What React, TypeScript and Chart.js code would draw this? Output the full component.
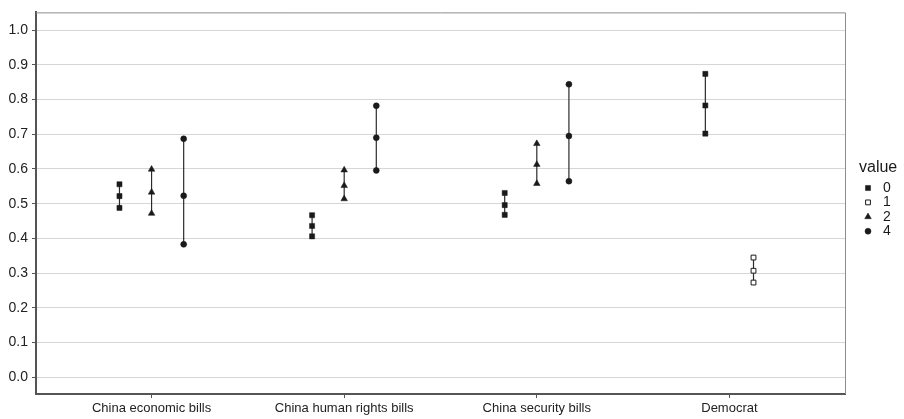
import React, { useEffect, useRef } from "react";
import { Chart, registerables } from "chart.js";

Chart.register(...registerables);

const categories = [
  "China economic bills",
  "China human rights bills",
  "China security bills",
  "Democrat",
];
const groupLabels = ["0", "1", "2", "4"];

// per group: estimate, lower, upper per category (null = not present)
const value0Mid = [0.522, 0.436, 0.496, 0.783];
const value0Low = [0.488, 0.406, 0.468, 0.702];
const value0High = [0.556, 0.467, 0.531, 0.874];

const value1Mid = [null, null, null, 0.307];
const value1Low = [null, null, null, 0.273];
const value1High = [null, null, null, 0.345];

const value2Mid = [0.533, 0.552, 0.613, null];
const value2Low = [0.472, 0.514, 0.558, null];
const value2High = [0.599, 0.597, 0.673, null];

const value4Mid = [0.523, 0.69, 0.695, null];
const value4Low = [0.383, 0.596, 0.565, null];
const value4High = [0.687, 0.782, 0.844, null];

const yTicks = [0, 0.1, 0.2, 0.3, 0.4, 0.5, 0.6, 0.7, 0.8, 0.9, 1.0];

const groupMid = [value0Mid, value1Mid, value2Mid, value4Mid];
const groupLow = [value0Low, value1Low, value2Low, value4Low];
const groupHigh = [value0High, value1High, value2High, value4High];

const DODGE = 0.5;
const INK = "#1a1a1a";
const FONT = "'Liberation Sans', Arial, sans-serif";

const markerStyles = [
  { pointStyle: "rect", radius: 3.6, fill: INK, border: INK, bw: 0.5 },
  { pointStyle: "rect", radius: 3.4, fill: "#ffffff", border: INK, bw: 1 },
  { pointStyle: "triangle", radius: 3.8, fill: INK, border: INK, bw: 0.5 },
  { pointStyle: "circle", radius: 3, fill: INK, border: INK, bw: 0.5 },
];

function xPosition(catIndex: number, groupIndex: number): number {
  const present: number[] = [];
  groupMid.forEach((arr, gi) => {
    if (arr[catIndex] != null) present.push(gi);
  });
  const n = present.length;
  const k = present.indexOf(groupIndex);
  const slot = DODGE / n;
  return catIndex + 1 - DODGE / 2 + slot / 2 + k * slot;
}

function buildData(gi: number) {
  const out: { x: number; y: number | null }[] = [];
  categories.forEach((_, ci) => {
    const m = groupMid[gi][ci];
    if (m == null) return;
    const x = xPosition(ci, gi);
    out.push({ x, y: groupLow[gi][ci] as number });
    out.push({ x, y: m });
    out.push({ x, y: groupHigh[gi][ci] as number });
    out.push({ x, y: null });
  });
  return out;
}

const framePlugin = {
  id: "frameAndLegend",
  afterDraw(chart: any) {
    const { ctx, chartArea } = chart;
    ctx.save();
    ctx.strokeStyle = "#8c8c8c";
    ctx.lineWidth = 1;
    ctx.beginPath();
    ctx.moveTo(chartArea.left, chartArea.top + 0.5);
    ctx.lineTo(chartArea.right + 0.5, chartArea.top + 0.5);
    ctx.lineTo(chartArea.right + 0.5, chartArea.bottom);
    ctx.stroke();

    // legend
    ctx.fillStyle = "#1a1a1a";
    ctx.font = `16px ${FONT}`;
    ctx.textBaseline = "middle";
    ctx.textAlign = "left";
    ctx.fillText("value", 859, 168);
    ctx.font = `14px ${FONT}`;
    groupLabels.forEach((lab, i) => {
      const y = 188 + i * 14.4;
      const x = 868;
      const st = markerStyles[i];
      ctx.fillStyle = st.fill;
      ctx.strokeStyle = st.border;
      ctx.lineWidth = st.bw;
      ctx.beginPath();
      if (st.pointStyle === "rect") {
        const s = st.radius * Math.SQRT1_2;
        ctx.rect(x - s, y - s, 2 * s, 2 * s);
      } else if (st.pointStyle === "triangle") {
        const r = st.radius;
        ctx.moveTo(x, y - r);
        ctx.lineTo(x + r * 0.866, y + r * 0.5);
        ctx.lineTo(x - r * 0.866, y + r * 0.5);
        ctx.closePath();
      } else {
        ctx.arc(x, y, st.radius, 0, Math.PI * 2);
      }
      ctx.fill();
      ctx.stroke();
      ctx.fillStyle = "#1a1a1a";
      ctx.fillText(lab, 883, y);
    });
    ctx.restore();
  },
};

export default function App() {
  const canvasRef = useRef<HTMLCanvasElement | null>(null);

  useEffect(() => {
    if (!canvasRef.current) return;
    const datasets = groupLabels.map((lab, gi) => {
      const st = markerStyles[gi];
      return {
        label: lab,
        data: buildData(gi),
        showLine: true,
        spanGaps: false,
        borderColor: "#2b2b2b",
        borderWidth: 1.2,
        pointStyle: st.pointStyle,
        pointRadius: st.radius,
        pointBackgroundColor: st.fill,
        pointBorderColor: st.border,
        pointBorderWidth: st.bw,
      };
    });

    const chart = new Chart(canvasRef.current, {
      type: "scatter",
      data: { datasets: datasets as any },
      plugins: [framePlugin],
      options: {
        animation: false,
        responsive: false,
        devicePixelRatio: 1,
        layout: { padding: { left: 0, top: 7, right: 59, bottom: 0 } },
        plugins: {
          legend: { display: false },
          tooltip: { enabled: false },
        },
        scales: {
          x: {
            type: "linear",
            min: 0.4,
            max: 4.6,
            afterBuildTicks: (scale: any) => {
              scale.ticks = [1, 2, 3, 4].map((v) => ({ value: v }));
            },
            afterFit: (scale: any) => {
              scale.height = 25;
            },
            ticks: {
              autoSkip: false,
              maxRotation: 0,
              padding: 3,
              color: "#222222",
              font: { family: FONT, size: 13 },
              callback: (v: any) => categories[Math.round(Number(v)) - 1] ?? "",
            },
            grid: {
              drawOnChartArea: false,
              drawTicks: true,
              tickLength: 4,
              tickColor: "#555555",
            },
            border: { display: true, color: "#555555", width: 2 },
          },
          y: {
            type: "linear",
            min: -0.048,
            max: 1.051,
            afterBuildTicks: (scale: any) => {
              scale.ticks = yTicks.map((v) => ({ value: v }));
            },
            afterFit: (scale: any) => {
              scale.width = 36;
            },
            ticks: {
              padding: 4,
              color: "#222222",
              font: { family: FONT, size: 14 },
              callback: (v: any) => Number(v).toFixed(1),
            },
            grid: {
              color: "#d6d6d6",
              lineWidth: 1,
              drawTicks: true,
              tickLength: 4,
              tickColor: "#555555",
            },
            border: { display: true, color: "#555555", width: 2 },
          },
        },
      } as any,
    });
    return () => chart.destroy();
  }, []);

  return (
    <div style={{ position: "fixed", left: 0, top: 0, width: 904, height: 419, background: "#ffffff" }}>
      <canvas ref={canvasRef} width={904} height={419} style={{ display: "block" }} />
    </div>
  );
}
